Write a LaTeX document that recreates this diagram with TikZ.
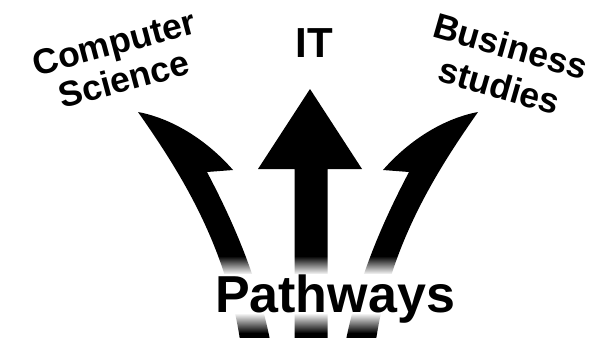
\documentclass[tikz,border=0pt]{standalone}
\usepackage{fontspec}
\setmainfont{Liberation Sans}
\usetikzlibrary{fadings}
\tikzfading[name=fadeout, top color=transparent!100, bottom color=transparent!0]
\tikzfading[name=fadeback, top color=transparent!0, bottom color=transparent!100]
\tikzset{
	lbl/.style={inner sep=0pt, align=center, font=\bfseries\fontsize{35.5}{39}\selectfont},
	band/.style={fill=black},
}
\begin{document}
\begin{tikzpicture}[x=1pt, y=-1pt]
				\fill[white] (0,0) rectangle (601,337);
				\useasboundingbox (0,0) rectangle (601,337);
				
				\fill[band] (294.5,340) -- (294.5,169) -- (258,169) -- (310,89) -- (362,169) -- (327.5,169) -- (327.5,340) -- cycle;
				
				\fill[band] (138,112) .. controls (175,165) and (225,240) .. (240,340) -- (270,340)
					.. controls (258,280) and (235,225) .. (207,172) -- (233,170)
					.. controls (205,138) and (170,118) .. (138,112) -- cycle;
				\fill[band] (478,112) .. controls (441,165) and (391,240) .. (376,340) -- (346,340)
					.. controls (358,280) and (381,225) .. (409,172) -- (383,170)
					.. controls (411,138) and (446,118) .. (478,112) -- cycle;
				
				\fill[white, path fading=fadeout] (170,256) rectangle (450,274.5);
				\fill[white] (170,274) rectangle (450,313.5);
				\fill[white, path fading=fadeback] (170,313) rectangle (450,333);
				
				\node[anchor=base, inner sep=0pt, font=\bfseries\fontsize{52}{56}\selectfont] (pathways) at (335,312) {Pathways};
				\node[anchor=base, inner sep=0pt, font=\bfseries\fontsize{42}{46}\selectfont] (it) at (314,57) {IT};
				\node[lbl, rotate=15] (cs) at (119,61) {Computer\\[-1pt]Science};
				\node[lbl, rotate=-16] (bs) at (505,66) {Business\\[2pt]studies};
			\end{tikzpicture}
\end{document}
